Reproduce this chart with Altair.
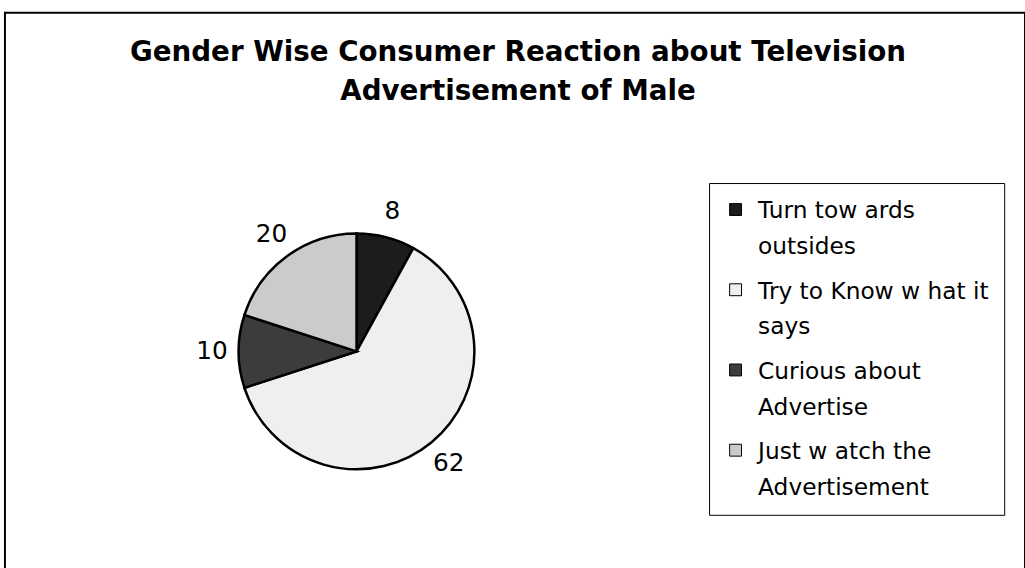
import altair as alt
import pandas as pd

# --- data ---
categories = [
    "Turn tow ards\noutsides",
    "Try to Know w hat it\nsays",
    "Curious about\nAdvertise",
    "Just w atch the\nAdvertisement",
]
values = [8, 62, 10, 20]
fills = ["#1c1c1c", "#efefef", "#3c3c3c", "#cbcbcb"]
title_lines = ["Gender Wise Consumer Reaction about Television", "Advertisement of Male"]

df = pd.DataFrame({"category": categories, "value": values, "order": list(range(len(values)))})

FONT = "DejaVu Sans"
CX, CY, R = 355, 342, 119

base = alt.Chart(df).encode(
    theta=alt.Theta("value:Q", stack=True),
    order=alt.Order("order:Q"),
)

pie = base.mark_arc(outerRadius=R, stroke="black", strokeWidth=2.5).encode(
    x=alt.value(CX),
    y=alt.value(CY),
    color=alt.Color(
        "category:N",
        scale=alt.Scale(domain=categories, range=fills),
        sort=categories,
        legend=alt.Legend(
            title=None,
            orient="none",
            legendX=711,
            legendY=172,
            symbolType="square",
            symbolSize=144,
            symbolStrokeColor="black",
            symbolStrokeWidth=1,
            labelFont=FONT,
            labelFontSize=23.5,
            labelColor="black",
            labelLimit=400,
            labelOffset=11,
            labelExpr="split(datum.label, '\\n')",
            labelBaseline="top",
            rowPadding=19,
            padding=15,
            strokeColor="black",
        ),
    ),
)

labels = base.mark_text(radius=146, font=FONT, fontSize=25, color="black").encode(
    x=alt.value(CX),
    y=alt.value(CY),
    text=alt.Text("value:Q"),
)

title = (
    alt.Chart(pd.DataFrame({"t": [0]}))
    .mark_text(
        text=title_lines,
        font=FONT,
        fontSize=28,
        fontWeight="bold",
        lineHeight=39,
        baseline="alphabetic",
        align="center",
        color="black",
    )
    .encode(x=alt.value(518), y=alt.value(49))
)

chart = (
    alt.layer(pie, labels, title)
    .properties(
        width=1030,
        height=570,
        autosize=alt.AutoSizeParams(type="none"),
        padding={"left": 5, "top": 10, "right": 0, "bottom": 0},
    )
    .configure(background="white", style={"guide-label": {"lineHeight": 36, "dy": -10}})
    .configure_view(stroke="black", strokeWidth=2)
)

chart.save("out.html", embed_options={"renderer": "svg", "actions": False})
